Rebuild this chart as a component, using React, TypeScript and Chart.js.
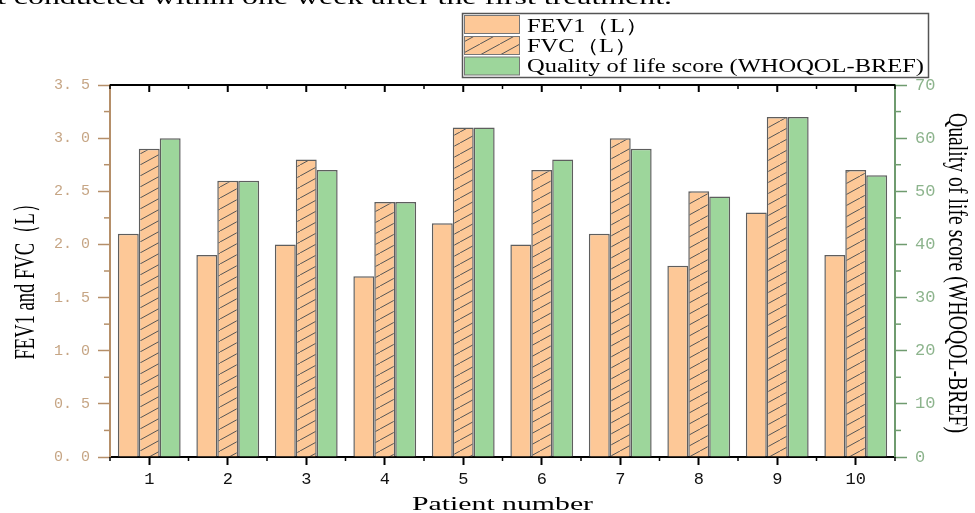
import React, { useEffect, useRef } from "react";
import { Chart, registerables } from "chart.js";

Chart.register(...registerables);

// ---------- data ----------
const categories = ["1", "2", "3", "4", "5", "6", "7", "8", "9", "10"];
const fev1 = [2.1, 1.9, 2.0, 1.7, 2.2, 2.0, 2.1, 1.8, 2.3, 1.9];
const fvc = [2.9, 2.6, 2.8, 2.4, 3.1, 2.7, 3.0, 2.5, 3.2, 2.7];
const qol = [60, 52, 54, 48, 62, 56, 58, 49, 64, 53];
const seriesLabels = ["FEV1（L）", "FVC（L）", "Quality of life score (WHOQOL-BREF)"];
const leftAxis = { min: 0, max: 3.5, step: 0.5, minorStep: 0.25 };
const rightAxis = { min: 0, max: 70, step: 10, minorStep: 5 };
const leftTitle = "FEV1 and FVC（L）";
const rightTitle = "Quality of life score (WHOQOL-BREF)";
const xTitle = "Patient number";
const topText = "t conducted within one week after the first treatment.";

// ---------- styles ----------
const PEACH = "#FDC897";
const GREEN = "#9DD69B";
const BAR_BORDER = "#5E5E5E";
const TAN_AXIS = "#B58F69";
const TAN_LABEL = "#C6A584";
const GREEN_AXIS = "#6F9B6F";
const GREEN_LABEL = "#8DB48D";
const SERIF = "'Liberation Serif', 'Times New Roman', serif";
const MONO = "'Liberation Mono', monospace";

function makeHatch(): CanvasPattern | string {
  const c = document.createElement("canvas");
  const w = 20, h = 11;
  c.width = w;
  c.height = h;
  const g = c.getContext("2d");
  if (!g) return PEACH;
  g.fillStyle = PEACH;
  g.fillRect(0, 0, w, h);
  g.strokeStyle = "#555";
  g.lineWidth = 1;
  for (const k of [-1, 0, 1]) {
    g.beginPath();
    g.moveTo(0 + k * w, h - k * h);
    g.lineTo(w + k * w, 0 - k * h);
    g.stroke();
  }
  const p = g.createPattern(c, "repeat");
  return p || PEACH;
}

// draw text stretched horizontally; returns the scale used
function stretchText(ctx: CanvasRenderingContext2D, text: string, x: number, y: number, target: number | null, factor?: number) {
  const w = ctx.measureText(text).width;
  const f = target != null ? target / w : factor || 1;
  ctx.save();
  ctx.textAlign = "left";
  ctx.translate(x, y);
  ctx.scale(f, 1);
  ctx.fillText(text, 0, 0);
  ctx.restore();
  return f;
}

export default function App() {
  const ref = useRef<HTMLCanvasElement | null>(null);

  useEffect(() => {
    const canvas = ref.current;
    if (!canvas) return;
    const hatch = makeHatch();

    const line = (ctx: CanvasRenderingContext2D, x1: number, y1: number, x2: number, y2: number) => {
      ctx.beginPath();
      ctx.moveTo(x1, y1);
      ctx.lineTo(x2, y2);
      ctx.stroke();
    };

    const decor = {
      id: "decor",
      afterDraw(chart: any) {
        const ctx: CanvasRenderingContext2D = chart.ctx;
        const { left, right, top, bottom } = chart.chartArea;
        const xs = chart.scales.x;
        const ys = chart.scales.y;
        const y2s = chart.scales.y2;
        ctx.save();
        ctx.lineCap = "butt";

        // top (mirror) axis
        ctx.strokeStyle = "#000";
        ctx.lineWidth = 2;
        line(ctx, left, top, right, top);
        const cw = (right - left) / categories.length;
        categories.forEach((_, i) => {
          const px = xs.getPixelForValue(i);
          line(ctx, px, top, px, top + 7);
        });
        ctx.lineWidth = 1.5;
        for (let i = 0; i <= categories.length; i++) {
          const px = xs.getPixelForValue(0) - cw / 2 + i * cw;
          line(ctx, px, top, px, top + 4);
          line(ctx, px, bottom, px, bottom + 4);
        }

        // left minor ticks
        ctx.strokeStyle = TAN_AXIS;
        ctx.lineWidth = 1.5;
        for (let v = leftAxis.minorStep; v < leftAxis.max; v += leftAxis.step) {
          const py = ys.getPixelForValue(v);
          line(ctx, left - 6, py, left, py);
        }
        // right minor ticks
        ctx.strokeStyle = GREEN_AXIS;
        for (let v = rightAxis.minorStep; v < rightAxis.max; v += rightAxis.step) {
          const py = y2s.getPixelForValue(v);
          line(ctx, right, py, right + 6, py);
        }

        // axis titles
        ctx.fillStyle = "#000";
        ctx.textBaseline = "middle";
        ctx.textAlign = "center";
        // left
        {
          ctx.font = `30px ${SERIF}`;
          const w = ctx.measureText(leftTitle).width;
          ctx.save();
          ctx.translate(26, 277);
          ctx.rotate(-Math.PI / 2);
          ctx.scale(165 / w, 1);
          ctx.fillText(leftTitle, 0, 0);
          ctx.restore();
        }
        // right
        {
          ctx.font = `28px ${SERIF}`;
          const w = ctx.measureText(rightTitle).width;
          ctx.save();
          ctx.translate(956, 273);
          ctx.rotate(Math.PI / 2);
          ctx.scale(320 / w, 1);
          ctx.fillText(rightTitle, 0, 0);
          ctx.restore();
        }
        // bottom
        ctx.font = `19px ${SERIF}`;
        ctx.textBaseline = "alphabetic";
        stretchText(ctx, xTitle, 412, 510, 181);

        // cropped text at the very top
        ctx.font = `22px ${SERIF}`;
        stretchText(ctx, topText, -3, 4, 675);

        // legend
        ctx.strokeStyle = "#555";
        ctx.lineWidth = 1.5;
        ctx.strokeRect(462.5, 13.5, 466, 64);
        const sw = [
          { y: 15.5, fill: PEACH as any },
          { y: 36.5, fill: hatch as any },
          { y: 57, fill: GREEN as any },
        ];
        ctx.lineWidth = 1;
        ctx.strokeStyle = "#777";
        sw.forEach((s) => {
          ctx.fillStyle = s.fill;
          ctx.fillRect(464.5, s.y, 55, 18);
          ctx.strokeRect(464.5, s.y, 55, 18);
        });
        ctx.fillStyle = "#000";
        ctx.font = `19px ${SERIF}`;
        const f = stretchText(ctx, seriesLabels[2], 527, 72, 397);
        stretchText(ctx, seriesLabels[0], 527, 32, null, f);
        stretchText(ctx, seriesLabels[1], 527, 52, null, f);

        ctx.restore();
      },
    };

    const chart = new Chart(canvas, {
      type: "bar",
      data: {
        labels: categories,
        datasets: [
          {
            label: seriesLabels[0],
            data: fev1,
            backgroundColor: PEACH,
            borderColor: BAR_BORDER,
            borderWidth: 1.5,
            yAxisID: "y",
            categoryPercentage: 0.8,
            barPercentage: 1.0,
          },
          {
            label: seriesLabels[1],
            data: fvc,
            backgroundColor: hatch as any,
            borderColor: BAR_BORDER,
            borderWidth: 1.5,
            yAxisID: "y",
            categoryPercentage: 0.8,
            barPercentage: 1.0,
          },
          {
            label: seriesLabels[2],
            data: qol,
            backgroundColor: GREEN,
            borderColor: BAR_BORDER,
            borderWidth: 1.5,
            yAxisID: "y2",
            categoryPercentage: 0.8,
            barPercentage: 1.0,
          },
        ],
      },
      options: {
        responsive: false,
        animation: false,
        devicePixelRatio: 1,
        layout: { padding: { left: 0, right: 0, top: 85, bottom: 0 } },
        plugins: {
          legend: { display: false },
          tooltip: { enabled: false },
          title: { display: false },
        },
        scales: {
          x: {
            type: "category",
            offset: true,
            grid: {
              display: true,
              drawOnChartArea: false,
              drawTicks: true,
              tickLength: 8,
              tickWidth: 2,
              tickColor: "#000",
              offset: false,
            },
            border: { display: true, color: "#000", width: 2 },
            ticks: {
              color: "#111",
              font: { family: MONO, size: 17 },
              padding: 4,
              maxRotation: 0,
              autoSkip: false,
            },
            afterFit: (s: any) => {
              s.height = 56;
            },
          },
          y: {
            type: "linear",
            position: "left",
            min: leftAxis.min,
            max: leftAxis.max,
            grid: {
              drawOnChartArea: false,
              drawTicks: true,
              tickLength: 12,
              tickWidth: 1.5,
              tickColor: TAN_AXIS,
            },
            border: { display: true, color: TAN_AXIS, width: 2 },
            ticks: {
              stepSize: leftAxis.step,
              color: TAN_LABEL,
              font: { family: MONO, size: 15 },
              padding: 8,
              callback: (v: any) => Number(v).toFixed(1).replace(".", ". "),
            },
            afterFit: (s: any) => {
              s.width = 110;
            },
          },
          y2: {
            type: "linear",
            position: "right",
            min: rightAxis.min,
            max: rightAxis.max,
            grid: {
              drawOnChartArea: false,
              drawTicks: true,
              tickLength: 12,
              tickWidth: 1.5,
              tickColor: GREEN_AXIS,
            },
            border: { display: true, color: GREEN_AXIS, width: 2 },
            ticks: {
              stepSize: rightAxis.step,
              color: GREEN_LABEL,
              font: { family: MONO, size: 17 },
              padding: 8,
            },
            afterFit: (s: any) => {
              s.width = 80;
            },
          },
        },
      } as any,
      plugins: [decor],
    });

    return () => {
      chart.destroy();
    };
  }, []);

  return (
    <div style={{ position: "absolute", left: 0, top: 0, width: 975, height: 513, background: "#fff" }}>
      <canvas ref={ref} width={975} height={513} style={{ display: "block", width: 975, height: 513 }} />
    </div>
  );
}
